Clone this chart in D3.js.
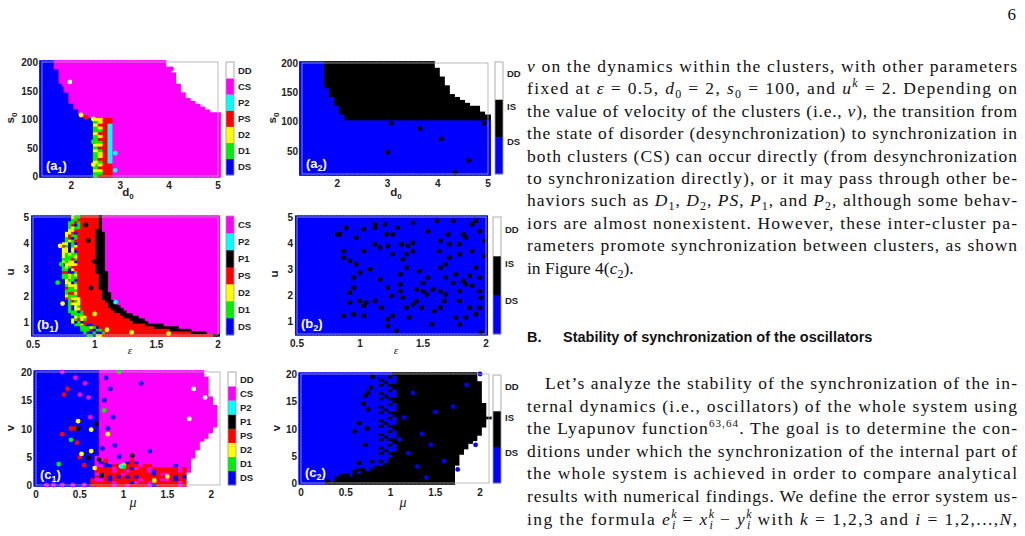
<!DOCTYPE html>
<html><head><meta charset="utf-8">
<script src="https://cdn.jsdelivr.net/npm/d3@7"></script>
<style>body{margin:0;background:#fff}svg{display:block}</style>
</head><body>
<svg id="s" width="1025" height="536"></svg>
<script>
// ---------------- DATA ----------------
const colors = {DS:"#0000ff",D1:"#00ee00",D2:"#ffff00",PS:"#ff0000",P1:"#000000",P2:"#00ffff",CS:"#ff00ff",DD:"#ffffff",IS:"#000000"};
const codeMap = {B:"DS",G:"D1",Y:"D2",R:"PS",K:"P1",C:"P2",M:"CS",W:"DD",I:"IS"};
const cbA1 = ["DS","D1","D2","PS","P2","CS","DD"];
const cbB1 = ["DS","D1","D2","PS","P1","P2","CS"];
const cbC1 = ["DS","D1","D2","PS","P1","P2","CS","DD"];
const cb2 = ["DS","IS","DD"];

// (a1) d0 vs s0
const a1DsX = [1.4,1.65,1.7,1.8,1.9,2.0,2.1,2.2,2.3,2.5];
const a1DsY = [201,201,185,160,145,128,115,106,102,100];
const a1DdX = [3.9,3.95,4.1,4.2,4.5,4.85,5.0];
const a1DdY = [205,198,182,160,130,115,110];
const a1StripCols = [2.5,2.6,2.7,2.8];
const a1Strip = ["GGYGGYGGGYGYGGGYGGYGY","RGYRYGRYYGRYGRYRGYRYY","RRRRRRRRRRRRRRRRRRRRR","RRRRRCCCCCCCCCCCCCCRR"];
const a1Dots = [[1.97,165,"W"],[2.2,107,"Y"],[2.45,100,"Y"],[2.3,103,"R"],[1.9,150,"M"],[1.85,160,"M"],[4.05,188,"M"],[2.45,60,"G"],[2.45,20,"Y"],[2.9,40,"C"],[2.9,10,"C"]];

// (a2)
const a2IsX = [1.7,1.74,1.76,1.88,1.98,2.1,2.2,5.0];
const a2IsY = [999,999,165,146,129,115,103,103];
const a2DdX = [3.9,3.95,4.1,4.2,4.3,4.5,4.85,5.0];
const a2DdY = [205,200,177,163,149,135,124,112];
const a2Dots = [[3.08,97],[3.65,88],[4.07,70],[3.0,47],[4.62,33],[4.35,12],[4.92,97]];

// (b1) eps vs u, row-wise boundaries
const b1U = [0.5,0.75,1,1.5,2,3,4,5];
const b1DsEnd = [0.94,0.89,0.82,0.79,0.77,0.74,0.75,0.81];
const b1GyEnd = [1.1,1.05,0.95,0.9,0.87,0.85,0.86,0.89];
const b1PsEnd = [1.96,1.53,1.32,1.13,1.06,1.02,1.02,1.03];
const b1P1End = [2.01,1.74,1.45,1.23,1.13,1.1,1.09,1.06];
const b1Pattern = "GYBGRYGYGGBYRGYGBYG";
const b1Dots = [[0.73,3.2,"G"],[0.72,3.9,"Y"],[0.7,2.5,"G"],[0.74,1.7,"Y"],[1.0,3.3,"K"],[0.97,2.3,"K"],[0.93,4.7,"K"],[1.17,1.75,"C"],[0.95,4.1,"K"],[1.0,1.3,"Y"],[1.1,0.7,"Y"],[1.3,0.6,"Y"],[1.6,0.55,"Y"],[0.9,0.8,"G"]];

// (b2) isolated IS points
const b2Dots = [[0.82,4.33],[0.84,4.33],[0.89,4.59],[0.97,4.2],[0.87,3.69],[0.87,3.44],[0.92,3.31],[0.97,3.18],[1.0,2.86],[0.95,2.67],[0.95,2.28],[0.92,2.09],[0.92,1.71],[1.0,1.77],[1.03,1.58],[1.05,1.71],[0.87,1.19],[0.95,1.26],[1.03,1.19],[1.08,2.99],[1.12,1.77],[1.12,3.95],[1.12,4.72],[1.12,4.59],[1.03,4.53],[1.03,3.69],[1.16,3.82],[1.16,2.6],[1.17,1.51],[1.2,4.72],[1.21,4.33],[1.22,3.88],[1.22,2.28],[1.25,1.96],[1.22,1.06],[1.22,0.81],[1.29,0.62],[1.26,1.19],[1.26,3.56],[1.26,4.33],[1.3,4.59],[1.34,3.37],[1.32,2.79],[1.32,2.41],[1.32,2.15],[1.37,3.05],[1.37,3.56],[1.38,3.88],[1.34,1.9],[1.37,1.51],[1.39,1.13],[1.42,3.69],[1.42,4.01],[1.45,2.22],[1.45,1.77],[1.42,1.64],[1.5,2.15],[1.5,2.47],[1.49,1.51],[1.54,2.67],[1.58,2.22],[1.54,4.46],[1.61,4.85],[1.64,4.08],[1.64,3.05],[1.64,2.15],[1.68,3.18],[1.68,2.67],[1.59,1.38],[1.64,1.51],[1.67,1.77],[1.57,0.87],[1.74,4.85],[1.7,4.33],[1.71,3.95],[1.71,3.44],[1.74,2.47],[1.76,2.79],[1.79,2.15],[1.82,2.54],[1.84,2.41],[1.87,2.73],[1.89,2.35],[1.82,4.33],[1.84,4.2],[1.89,4.72],[1.92,4.85],[1.79,3.95],[1.89,3.69],[1.79,3.56],[1.92,3.05],[1.95,2.67],[1.95,2.15],[1.96,1.9],[1.95,1.51],[1.92,1.26],[1.96,0.55],[1.99,4.08],[1.99,3.5],[1.95,4.46],[1.76,1.13],[1.79,0.87],[1.84,1.13],[1.87,1.51],[1.79,1.77],[1.53,2.02],[1.47,2.92],[1.42,4.78],[1.33,3.95],[1.63,3.69],[1.68,2.02]];

// (c1) mu vs v
const c1DsV = [0,2,5,10,15,20];
const c1DsMu = [0.6,0.7,0.7,0.72,0.72,0.74];
const c1DdV = [0,2,4.5,7.5,10.4,13.3,16.2,20];
const c1DdMu = [1.73,1.74,1.79,1.9,2.06,2.09,1.98,1.94];
const c1RedMu = [0.55,0.6,0.7,0.8,0.9,1.0,1.1,1.2,1.3,1.4,1.5,1.6,1.72];
const c1RedV = [0.5,1.5,3.5,4.5,3.5,3.5,4.5,4,3.5,3,3,3.5,3];
const c1Pattern = "RRMRRRMRRBRRMRR";
const c1Dots = [[0.3,9,"R"],[0.32,16,"R"],[0.36,17,"R"],[0.4,10,"R"],[0.47,7.5,"R"],[0.5,4.9,"R"],[0.55,3.5,"R"],[0.45,10,"R"],
 [0.48,11.3,"Y"],[0.63,9.8,"Y"],[0.52,5.5,"Y"],[0.63,6,"Y"],[0.82,9,"Y"],[0.67,3,"Y"],[1.0,3.5,"Y"],[1.5,1.5,"Y"],[1.35,0.8,"Y"],
 [0.26,3.7,"G"],[0.4,8,"G"],[0.78,13.2,"G"],[0.95,20,"G"],[1.0,3.2,"G"],
 [0.48,10,"K"],[0.69,10.8,"K"],[0.6,4.8,"K"],[0.72,4.5,"K"],[0.75,1.8,"K"],[1.1,5.2,"K"],[0.97,3.3,"C"],
 [1.8,17,"W"],[1.75,11.7,"W"],[1.93,15.5,"W"],
 [0.3,20,"M"],[0.5,16,"M"],[0.6,15.5,"M"],[0.45,19,"M"],[0.62,12,"M"],[0.56,18,"M"],[0.12,0,"M"],[0.2,0,"M"],[0.3,0,"M"],[0.42,0,"M"],[0.55,0,"M"],
 [0.8,19,"B"],[0.85,17,"B"],[0.78,15,"B"],[0.88,12,"B"],[0.82,10,"B"],[0.9,7,"B"],[0.95,5,"B"],[1.2,18,"B"],[1.3,6,"B"],[0.76,6.5,"B"],[0.8,3.5,"B"]];

// (c2)
const c2MixV = [0,0.5,1,1.5,2,3,5,10,15,20];
const c2MixMu = [0.25,0.3,0.4,0.48,0.6,0.7,0.85,0.88,0.87,0.85];
const c2SolV = [0,2,3,5,10,15,20];
const c2SolMu = [0.3,0.7,0.9,1.05,1.08,1.08,1.08];
const c2DdV = [0,3,5,7,10,12,15,20];
const c2DdMu = [1.73,1.74,1.78,1.9,2.05,2.1,2.05,1.98];
const c2Pattern = "BKKBKBBKKBKBKBB";
const c2Dots = [[0.72,16,"I"],[0.75,16.6,"I"],[0.78,17.5,"I"],[0.7,14.5,"I"],[0.75,13.5,"I"],[0.65,11,"I"],[0.6,9.5,"I"],[0.74,10,"I"],[0.72,7,"I"],[0.52,1.4,"I"],[0.45,1.2,"I"],[0.4,0.8,"I"],[0.6,2,"I"],[0.65,3.7,"I"],[0.8,19.5,"I"],
 [1.2,5.5,"B"],[1.3,3,"B"],[1.45,7,"B"],[1.6,4,"B"],[1.75,2.5,"B"],[1.95,7,"B"],[1.5,13,"B"],[1.35,9,"B"],[1.7,14,"B"],[1.85,18,"B"],[2.0,20,"B"],[1.1,8,"B"],[1.25,16.5,"B"],[1.15,12,"B"],[1.4,1,"B"]];

// ---------------- DRAW ----------------
const svg = d3.select("#s");
const pw = (xs,ys)=>d3.scaleLinear().domain(xs).range(ys).clamp(true);
const sans = "'Liberation Sans', Arial, sans-serif";
const pick = (pat,xv,yv,xs,ys)=>{const c=Math.round(xv/xs), r=Math.round(yv/ys); return pat[(c*7+r*3+((c*r)%5))%pat.length];};

function panel(o){
  const g = svg.append("g");
  const x = d3.scaleLinear().domain(o.xd).range(o.xr);
  const y = d3.scaleLinear().domain(o.yd).range(o.yr);
  const cells=[];
  for(const xv of d3.range(o.xd[0], o.xd[1]+1e-9, o.xs))
    for(const yv of d3.range(o.yd[0], o.yd[1]+1e-9, o.ys))
      cells.push({xv,yv,st:o.state(xv,yv)});
  const cw = Math.abs(x(o.xs)-x(0))+0.8, ch = Math.abs(y(o.ys)-y(0))+0.8;
  g.selectAll(".c").data(cells).join("rect")
    .attr("x",d=>x(d.xv)-cw/2).attr("y",d=>y(d.yv)-ch/2)
    .attr("width",cw).attr("height",ch).attr("fill",d=>colors[d.st]);
  g.selectAll(".d").data(o.dots||[]).join("circle")
    .attr("cx",d=>x(d[0])).attr("cy",d=>y(d[1])).attr("r",2.4)
    .attr("fill",d=>colors[codeMap[d[2]||"I"]]);
  g.append("rect").attr("x",o.xr[0]).attr("y",o.yr[1]).attr("width",o.xr[1]-o.xr[0]).attr("height",o.yr[0]-o.yr[1])
    .attr("fill","none").attr("stroke","#aaa").attr("stroke-width",0.8);
  g.selectAll(".xt").data(o.xt).join("text").attr("x",d=>x(d)).attr("y",o.yr[0]+13)
    .attr("text-anchor","middle").attr("font-family",sans).attr("font-weight","bold").attr("font-size",10).attr("fill","#222").text(d=>d);
  g.selectAll(".yt").data(o.yt).join("text").attr("x",o.xr[0]-4).attr("y",d=>y(d)+4)
    .attr("text-anchor","end").attr("font-family",sans).attr("font-weight","bold").attr("font-size",10).attr("fill","#222").text(d=>d);
  o.titles(g);
  const lab = g.append("text").attr("x",o.xr[0]+4).attr("y",o.yr[0]-6).attr("font-family",sans).attr("font-weight","bold")
    .attr("font-size",13).attr("fill","#fff");
  lab.append("tspan").text("("+o.lab[0]);
  lab.append("tspan").attr("font-size",9).attr("dy",3).text(o.lab[1]);
  lab.append("tspan").attr("dy",-3).text(")");
  const cb = o.cb, n=cb.names.length, h=(cb.y1-cb.y0)/n;
  cb.names.forEach((nm,i)=>{
    g.append("rect").attr("x",cb.x).attr("y",cb.y1-(i+1)*h).attr("width",8).attr("height",h+0.3).attr("fill",colors[nm]);
    g.append("text").attr("x",cb.x+12).attr("y",cb.y1-(i+cb.off[i])*h+3.5).attr("font-family",sans).attr("font-weight","bold")
      .attr("font-size",9.5).attr("fill","#222").text(nm);
  });
  g.append("rect").attr("x",cb.x).attr("y",cb.y0).attr("width",8).attr("height",cb.y1-cb.y0).attr("fill","none").attr("stroke","#999").attr("stroke-width",0.8);
}
function sub(g,x,y,a,b,rot){
  const t=g.append("text").attr("font-family",sans).attr("font-weight","bold").attr("font-size",11.5).attr("fill","#222")
    .attr("transform",`translate(${x},${y})`+(rot?" rotate(-90)":"")).attr("text-anchor","middle");
  t.append("tspan").text(a); if(b){t.append("tspan").attr("font-size",8).attr("dy",3).text(b);}
}
function greek(g,x,y,c){g.append("text").attr("x",x).attr("y",y).attr("text-anchor","middle").attr("font-family","'Liberation Serif',serif").attr("font-style","italic").attr("font-size",c==="ε"?11:14).attr("fill","#222").text(c);}
const mid7=[0.5,0.5,0.5,0.5,0.5,0.5,0.5], mid8=[0.5,0.5,0.5,0.5,0.5,0.5,0.5,0.5], off3=[0.86,0.81,0.68];

// a1
const a1ds=pw(a1DsX,a1DsY), a1dd=pw(a1DdX,a1DdY);
panel({xd:[1.4,5.0],xr:[42,218],xs:0.1,yd:[0,200],yr:[176,62],ys:5,xt:[2,3,4,5],yt:[0,50,100,150,200],lab:["a","1"],
 state:(d,s)=>{
   if(d<2.45){return s<=a1ds(d)?"DS":"CS";}
   const k=a1StripCols.findIndex(c=>Math.abs(c-d)<0.01);
   if(k>=0 && s<=100) return codeMap[a1Strip[k][Math.round(s/5)]];
   if(d>=3.9 && s>a1dd(d)) return "DD";
   return "CS";},
 dots:a1Dots, cb:{x:226,y0:62,y1:175,names:cbA1,off:mid7},
 titles:g=>{sub(g,128,196,"d","0");sub(g,14,118,"s","0",true);}});
// a2
const a2is=pw(a2IsX,a2IsY), a2dd=pw(a2DdX,a2DdY);
panel({xd:[1.3,5.0],xr:[302,488],xs:0.1,yd:[10,200],yr:[174,63],ys:5,xt:[2,3,4,5],yt:[50,100,150,200],lab:["a","2"],
 state:(d,s)=>{ if(d>=3.9&&s>a2dd(d)) return "DD"; if(d>=1.75&&s>=a2is(d)) return "IS"; return "DS";},
 dots:a2Dots, cb:{x:495,y0:62,y1:174,names:cb2,off:off3},
 titles:g=>{sub(g,396,196,"d","0");sub(g,276,118,"s","0",true);}});
// b1
const b1ds=pw(b1U,b1DsEnd), b1gy=pw(b1U,b1GyEnd), b1ps=pw(b1U,b1PsEnd), b1p1=pw(b1U,b1P1End);
panel({xd:[0.5,2.0],xr:[33,218],xs:0.025,yd:[0.5,5.0],yr:[335,217],ys:0.1,xt:[0.5,1,1.5,2],yt:[1,2,3,4,5],lab:["b","1"],
 state:(e,u)=>{ if(e<b1ds(u)) return "DS";
   if(e<b1gy(u)) return codeMap[pick(b1Pattern,e,u,0.025,0.1)];
   if(e<b1ps(u)) return "PS"; if(e<b1p1(u)) return "P1"; return "CS";},
 dots:b1Dots, cb:{x:226,y0:216,y1:335,names:cbB1,off:mid7},
 titles:g=>{greek(g,130,354,"ε");sub(g,14,272,"u",null,true);}});
// b2
panel({xd:[0.5,2.0],xr:[297,486],xs:0.025,yd:[0.5,5.0],yr:[334,217],ys:0.1,xt:[0.5,1,1.5,2],yt:[1,2,3,4,5],lab:["b","2"],
 state:()=> "DS", dots:b2Dots, cb:{x:493,y0:217,y1:334,names:cb2,off:off3},
 titles:g=>{greek(g,396,354,"ε");sub(g,278,274,"u",null,true);}});
// c1
const c1ds=pw(c1DsV,c1DsMu), c1dd=pw(c1DdV,c1DdMu), c1red=pw(c1RedMu,c1RedV);
panel({xd:[0,2.1],xr:[36,220],xs:0.05,yd:[0,20],yr:[485,372],ys:0.5,xt:[0,0.5,1,1.5,2],yt:[0,5,10,15,20],lab:["c","1"],
 state:(m,v)=>{ if(m<c1ds(v)) return "DS"; if(m>c1dd(v)) return "DD";
   if(m>=0.55 && m<=1.72 && v<=c1red(m)) return codeMap[pick(c1Pattern,m,v,0.05,0.5)];
   return "CS";},
 dots:c1Dots, cb:{x:228,y0:372,y1:485,names:cbC1,off:mid8},
 titles:g=>{greek(g,133,507,"μ");sub(g,14,428,"v",null,true);}});
// c2
const c2mix=pw(c2MixV,c2MixMu), c2sol=pw(c2SolV,c2SolMu), c2dd=pw(c2DdV,c2DdMu);
panel({xd:[0,2.1],xr:[301,489],xs:0.05,yd:[0,20],yr:[483,374],ys:0.5,xt:[0,0.5,1,1.5,2],yt:[0,5,10,15,20],lab:["c","2"],
 state:(m,v)=>{ if(m>c2dd(v)) return "DD"; if(m>=c2sol(v)) return "IS";
   if(m>=c2mix(v)) return pick(c2Pattern,m,v,0.05,0.5)==="K"?"IS":"DS";
   return "DS";},
 dots:c2Dots, cb:{x:493,y0:375,y1:483,names:cb2,off:off3},
 titles:g=>{greek(g,403,507,"μ");sub(g,280,428,"v",null,true);}});

// ---------------- TEXT ----------------
const para1 = [
 [["v","i"],[" on the dynamics within the clusters, with other parameters"]],
 [["fixed at "],["ε","i"],[" = 0.5, "],["d","i"],["0","sub"],[" = 2, "],["s","i"],["0","sub"],[" = 100, and "],["u","i"],["k","supi"],[" = 2. Depending on"]],
 [["the value of velocity of the clusters (i.e., "],["v","i"],["), the transition from"]],
 [["the state of disorder (desynchronization) to synchronization in"]],
 [["both clusters (CS) can occur directly (from desynchronization"]],
 [["to synchronization directly), or it may pass through other be-"]],
 [["haviors such as "],["D","i"],["1","sub"],[", "],["D","i"],["2","sub"],[", "],["PS","i"],[", "],["P","i"],["1","sub"],[", and "],["P","i"],["2","sub"],[", although some behav-"]],
 [["iors are almost nonexistent.  However, these inter-cluster pa-"]],
 [["rameters promote synchronization between clusters, as shown"]],
 [["in Figure 4("],["c","i"],["2","sub"],[")."]]
];
const para2 = [
 [["Let’s analyze the stability of the synchronization of the in-"]],
 [["ternal dynamics (i.e., oscillators) of the whole system using"]],
 [["the Lyapunov function"],["63,64","sup"],[". The goal is to determine the con-"]],
 [["ditions under which the synchronization of the internal part of"]],
 [["the whole system is achieved in order to compare analytical"]],
 [["results with numerical findings. We define the error system us-"]],
 [["ing the formula "],["e","i"],["k","supi"],["i","subi2"],[" = "],["x","i"],["k","supi"],["i","subi2"],[" − "],["y","i"],["k","supi"],["i","subi2"],[" with "],["k","i"],[" = 1,2,3 and "],["i","i"],[" = 1,2,...,"],["N","i"],[","]]
];
function writeLine(parts,x,y,w,justify){
  const t=svg.append("text").attr("x",x).attr("y",y).attr("font-family","'Liberation Serif','Times New Roman',Times,serif").attr("font-size",17.5).attr("fill","#111");
  let off=0;
  parts.forEach(([s,st])=>{
    const ts=t.append("tspan").text(s);
    let want=0;
    if(st==="i") ts.attr("font-style","italic");
    if(st==="sub"){ts.attr("font-size",12);want=4;}
    if(st==="sup"){ts.attr("font-size",11);want=-7;}
    if(st==="supi"){ts.attr("font-size",12).attr("font-style","italic");want=-7;}
    if(st==="subi2"){ts.attr("font-size",12).attr("font-style","italic").attr("dx",-6);want=4;}
    if(want!==off){ts.attr("dy",want-off);off=want;}
  });
  if(justify) t.attr("textLength",w).attr("lengthAdjust","spacing");
}
para1.forEach((l,i)=>writeLine(l,527,72+i*22.4,490,i<para1.length-1));
para2.forEach((l,i)=>writeLine(l,i===0?545:527,389+i*22.6,i===0?472:490,true));
svg.append("text").attr("x",527).attr("y",342).attr("font-family",sans).attr("font-weight","bold").attr("font-size",14.5).attr("fill","#111").text("B.");
svg.append("text").attr("x",563).attr("y",342).attr("font-family",sans).attr("font-weight","bold").attr("font-size",14.5).attr("fill","#111").text("Stability of synchronization of the oscillators");
svg.append("text").attr("x",1016).attr("y",20).attr("text-anchor","end").attr("font-family","'Liberation Serif',serif").attr("font-size",17).attr("fill","#111").text("6");
</script>
</body></html>
